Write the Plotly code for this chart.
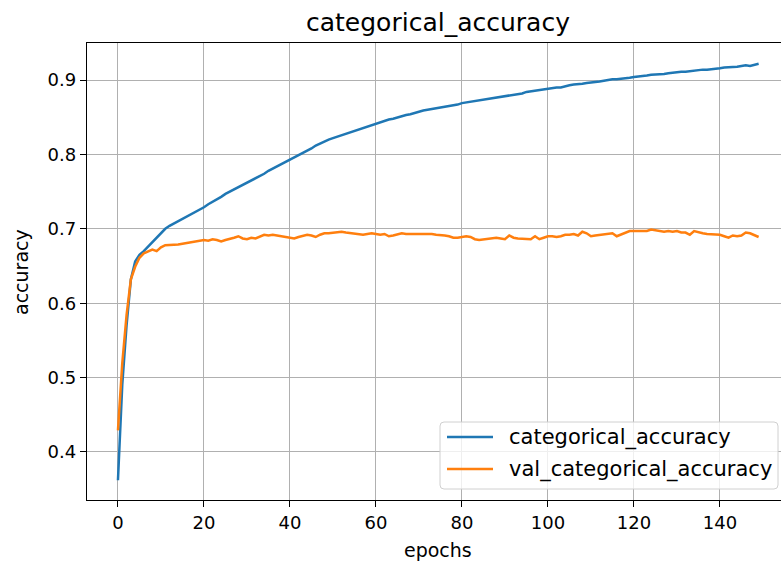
import plotly.graph_objects as go

epochs = list(range(150))
train_acc = [
    0.362, 0.490, 0.570, 0.632, 0.656, 0.665, 0.670, 0.676, 0.682, 0.688,
    0.695, 0.700, 0.704, 0.707, 0.710, 0.713, 0.716, 0.719, 0.722, 0.725,
    0.729, 0.733, 0.736, 0.739, 0.743, 0.747, 0.750, 0.752, 0.755, 0.758,
    0.762, 0.765, 0.768, 0.771, 0.774, 0.778, 0.781, 0.784, 0.786, 0.789,
    0.793, 0.796, 0.799, 0.802, 0.805, 0.808, 0.812, 0.815, 0.818, 0.820,
    0.822, 0.824, 0.826, 0.828, 0.830, 0.832, 0.834, 0.836, 0.838, 0.840,
    0.842, 0.843, 0.845, 0.847, 0.848, 0.850, 0.851, 0.853, 0.854, 0.856,
    0.858, 0.859, 0.860, 0.861, 0.862, 0.863, 0.864, 0.865, 0.866, 0.867,
    0.869, 0.870, 0.871, 0.872, 0.873, 0.874, 0.875, 0.876, 0.876, 0.877,
    0.878, 0.879, 0.880, 0.881, 0.882, 0.884, 0.885, 0.886, 0.886, 0.887,
    0.888, 0.889, 0.890, 0.890, 0.892, 0.893, 0.894, 0.894, 0.895, 0.896,
    0.897, 0.898, 0.898, 0.899, 0.900, 0.901, 0.901, 0.902, 0.903, 0.903,
    0.904, 0.905, 0.905, 0.906, 0.907, 0.907, 0.908, 0.908, 0.909, 0.910,
    0.910, 0.911, 0.911, 0.912, 0.913, 0.913, 0.914, 0.914, 0.915, 0.915,
    0.916, 0.917, 0.917, 0.918, 0.918, 0.919, 0.920, 0.919, 0.921, 0.922,
]
val_acc = [
    0.429, 0.519, 0.584, 0.632, 0.649, 0.661, 0.667, 0.670, 0.672, 0.670,
    0.675, 0.678, 0.678, 0.678, 0.679, 0.680, 0.681, 0.683, 0.684, 0.685,
    0.685, 0.684, 0.686, 0.685, 0.683, 0.685, 0.686, 0.688, 0.690, 0.687,
    0.686, 0.688, 0.687, 0.689, 0.692, 0.691, 0.692, 0.691, 0.690, 0.689,
    0.688, 0.687, 0.689, 0.690, 0.692, 0.691, 0.689, 0.692, 0.694, 0.694,
    0.695, 0.696, 0.696, 0.695, 0.694, 0.693, 0.692, 0.692, 0.693, 0.694,
    0.693, 0.692, 0.693, 0.690, 0.691, 0.692, 0.694, 0.693, 0.693, 0.694,
    0.693, 0.694, 0.694, 0.693, 0.692, 0.692, 0.691, 0.690, 0.688, 0.688,
    0.689, 0.690, 0.689, 0.686, 0.685, 0.686, 0.687, 0.687, 0.688, 0.687,
    0.686, 0.691, 0.688, 0.687, 0.687, 0.686, 0.686, 0.690, 0.686, 0.688,
    0.690, 0.690, 0.689, 0.690, 0.692, 0.692, 0.693, 0.691, 0.696, 0.694,
    0.690, 0.691, 0.692, 0.693, 0.693, 0.694, 0.690, 0.692, 0.695, 0.697,
    0.697, 0.697, 0.698, 0.697, 0.699, 0.698, 0.697, 0.696, 0.697, 0.696,
    0.697, 0.695, 0.695, 0.692, 0.697, 0.695, 0.694, 0.693, 0.693, 0.692,
    0.692, 0.690, 0.688, 0.691, 0.690, 0.691, 0.695, 0.694, 0.692, 0.689,
]
series_names = ["categorical_accuracy", "val_categorical_accuracy"]
series_colors = ["#1f77b4", "#ff7f0e"]
x_ticks = [0, 20, 40, 60, 80, 100, 120, 140]
y_ticks = [0.4, 0.5, 0.6, 0.7, 0.8, 0.9]
y_tick_labels = ["0.4", "0.5", "0.6", "0.7", "0.8", "0.9"]

FONT = "DejaVu Sans"
W, H = 781, 564
L, R, T, B = 87, 0, 43, 64
PW, PH = W - L - R, H - T - B


def px(xp):
    return (xp - L) / PW


def py(yp):
    return (H - B - yp) / PH


fig = go.Figure()
for name, ys, col in zip(series_names, [train_acc, val_acc], series_colors):
    fig.add_trace(go.Scatter(x=epochs, y=ys, mode="lines", name=name,
                             line=dict(color=col, width=2.5), showlegend=False))

shapes = []
annotations = []

# legend box (rounded)
x0, x1, y0, y1 = px(440), px(778), py(489), py(422)
rx, ry = 4 / PW, 4 / PH
path = (f"M {x0+rx},{y0} L {x1-rx},{y0} Q {x1},{y0} {x1},{y0+ry} "
        f"L {x1},{y1-ry} Q {x1},{y1} {x1-rx},{y1} L {x0+rx},{y1} "
        f"Q {x0},{y1} {x0},{y1-ry} L {x0},{y0+ry} Q {x0},{y0} {x0+rx},{y0} Z")
shapes.append(dict(type="path", path=path, xref="paper", yref="paper",
                   fillcolor="rgba(255,255,255,0.8)",
                   line=dict(color="#d0d0d0", width=1), layer="above"))
for i, (name, col) in enumerate(zip(series_names, series_colors)):
    yc = 437 + i * 32
    shapes.append(dict(type="line", xref="paper", yref="paper",
                       x0=px(447), x1=px(493), y0=py(yc), y1=py(yc),
                       line=dict(color=col, width=2.5), layer="above"))
    annotations.append(dict(text=name, x=px(507), y=py(yc), xref="paper", yref="paper",
                            showarrow=False, xanchor="left", yanchor="middle",
                            font=dict(size=21, family=FONT, color="black")))

annotations += [
    dict(text="categorical_accuracy", x=px(438), y=py(22), xref="paper", yref="paper",
         showarrow=False, font=dict(size=25), xanchor="center", yanchor="middle"),
    dict(text="epochs", x=px(438), y=py(550), xref="paper", yref="paper",
         showarrow=False, font=dict(size=19), xanchor="center", yanchor="middle"),
    dict(text="accuracy", x=px(21), y=py(272), xref="paper", yref="paper",
         showarrow=False, font=dict(size=19), textangle=-90,
         xanchor="center", yanchor="middle"),
]

fig.update_layout(
    width=W, height=H,
    margin=dict(l=L, r=R, t=T, b=B),
    paper_bgcolor="white", plot_bgcolor="white",
    font=dict(family=FONT, size=18, color="black"),
    showlegend=False,
    xaxis=dict(
        range=[-7.2, 154.2], tickvals=x_ticks, ticktext=[str(v) for v in x_ticks],
        showgrid=True, gridcolor="#b0b0b0", gridwidth=1.4,
        showline=True, linecolor="black", linewidth=1.4, mirror=True,
        ticks="outside", ticklen=6, tickwidth=1.4, tickcolor="black",
        zeroline=False, tickfont=dict(size=18),
    ),
    yaxis=dict(
        range=[0.3354, 0.9498], tickvals=y_ticks, ticktext=y_tick_labels,
        showgrid=True, gridcolor="#b0b0b0", gridwidth=1.4,
        showline=True, linecolor="black", linewidth=1.4, mirror=False,
        ticks="outside", ticklen=6, tickwidth=1.4, tickcolor="black",
        zeroline=False, tickfont=dict(size=18),
    ),
    shapes=shapes,
    annotations=annotations,
)

fig.write_html("out.html")
